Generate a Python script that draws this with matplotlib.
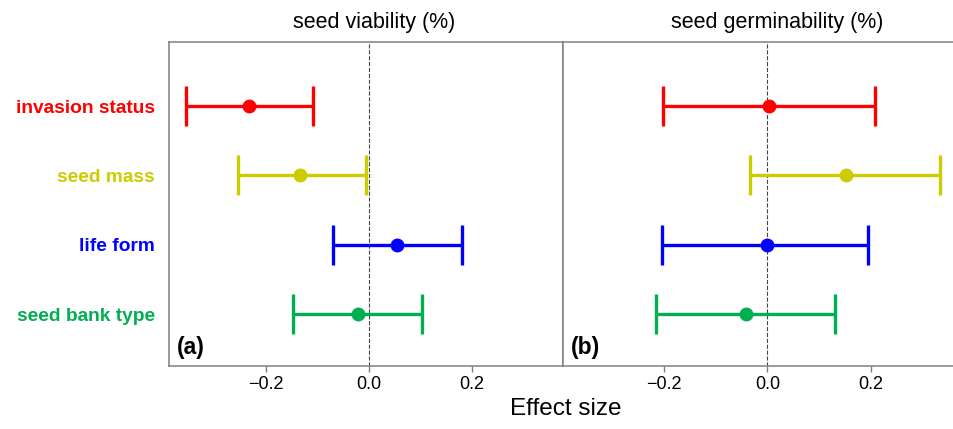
import matplotlib
matplotlib.use("Agg")
import matplotlib.pyplot as plt

plt.rcParams['font.family'] = ['Liberation Sans', 'DejaVu Sans']

traits = ['invasion status', 'seed mass', 'life form', 'seed bank type']
colores = ['#ff0000', '#cccc00', '#0000ff', '#00b050']

# seed viability (%)
via_mean = [-0.232, -0.134, 0.055, -0.021]
via_low = [-0.354, -0.253, -0.070, -0.146]
via_high = [-0.109, -0.005, 0.180, 0.104]

# seed germinability (%)
germ_mean = [0.003, 0.152, -0.001, -0.042]
germ_low = [-0.202, -0.034, -0.205, -0.215]
germ_high = [0.208, 0.335, 0.194, 0.130]

titulos = ['seed viability (%)', 'seed germinability (%)']
paneles = ['(a)', '(b)']
xlims = [(-0.387, 0.376), (-0.396, 0.367)]
titulo_x = [0.522, 0.543]

fig = plt.figure(figsize=(9.54, 4.29), dpi=100)
ax1 = fig.add_axes([0.1771, 0.1469, 0.413, 0.7559])
ax2 = fig.add_axes([0.5901, 0.1469, 0.413, 0.7559])

datos = [(via_mean, via_low, via_high), (germ_mean, germ_low, germ_high)]
ypos = list(range(len(traits)))

for k, ax in enumerate([ax1, ax2]):
    media, bajo, alto = datos[k]
    for i in range(len(traits)):
        err = [[media[i] - bajo[i]], [alto[i] - media[i]]]
        ax.errorbar([media[i]], [ypos[i]], xerr=err, fmt='o', color=colores[i],
                    ms=9, elinewidth=2.4, capsize=14.5, capthick=2.4, zorder=3)
    ax.axvline(0, color='#444444', lw=0.8, ls='--', zorder=1)
    ax.set_xlim(xlims[k])
    ax.set_ylim(3.75, -0.93)
    ax.set_xticks([-0.2, 0.0, 0.2])
    ax.set_xticklabels(['\u22120.2', '0.0', '0.2'])
    ax.tick_params(axis='x', labelsize=13, color='#808080', length=4, width=1)
    ax.set_title(titulos[k], fontsize=15.5, pad=10, x=titulo_x[k])
    for s in ax.spines.values():
        s.set_color('#808080')
        s.set_linewidth(1.1)
    ax.text(0.02, 0.022, paneles[k], transform=ax.transAxes, fontsize=16.5,
            fontweight='bold', ha='left', va='bottom')

ax1.set_yticks(ypos)
ax1.set_yticklabels(traits, fontsize=13.8, fontweight='bold')
for lab, c in zip(ax1.get_yticklabels(), colores):
    lab.set_color(c)
ax1.tick_params(axis='y', length=0, pad=10)
ax2.set_yticks([])

fig.text(0.593, 0.02, 'Effect size', fontsize=17.5, ha='center', va='bottom')

fig.savefig('out.png', dpi=100)
